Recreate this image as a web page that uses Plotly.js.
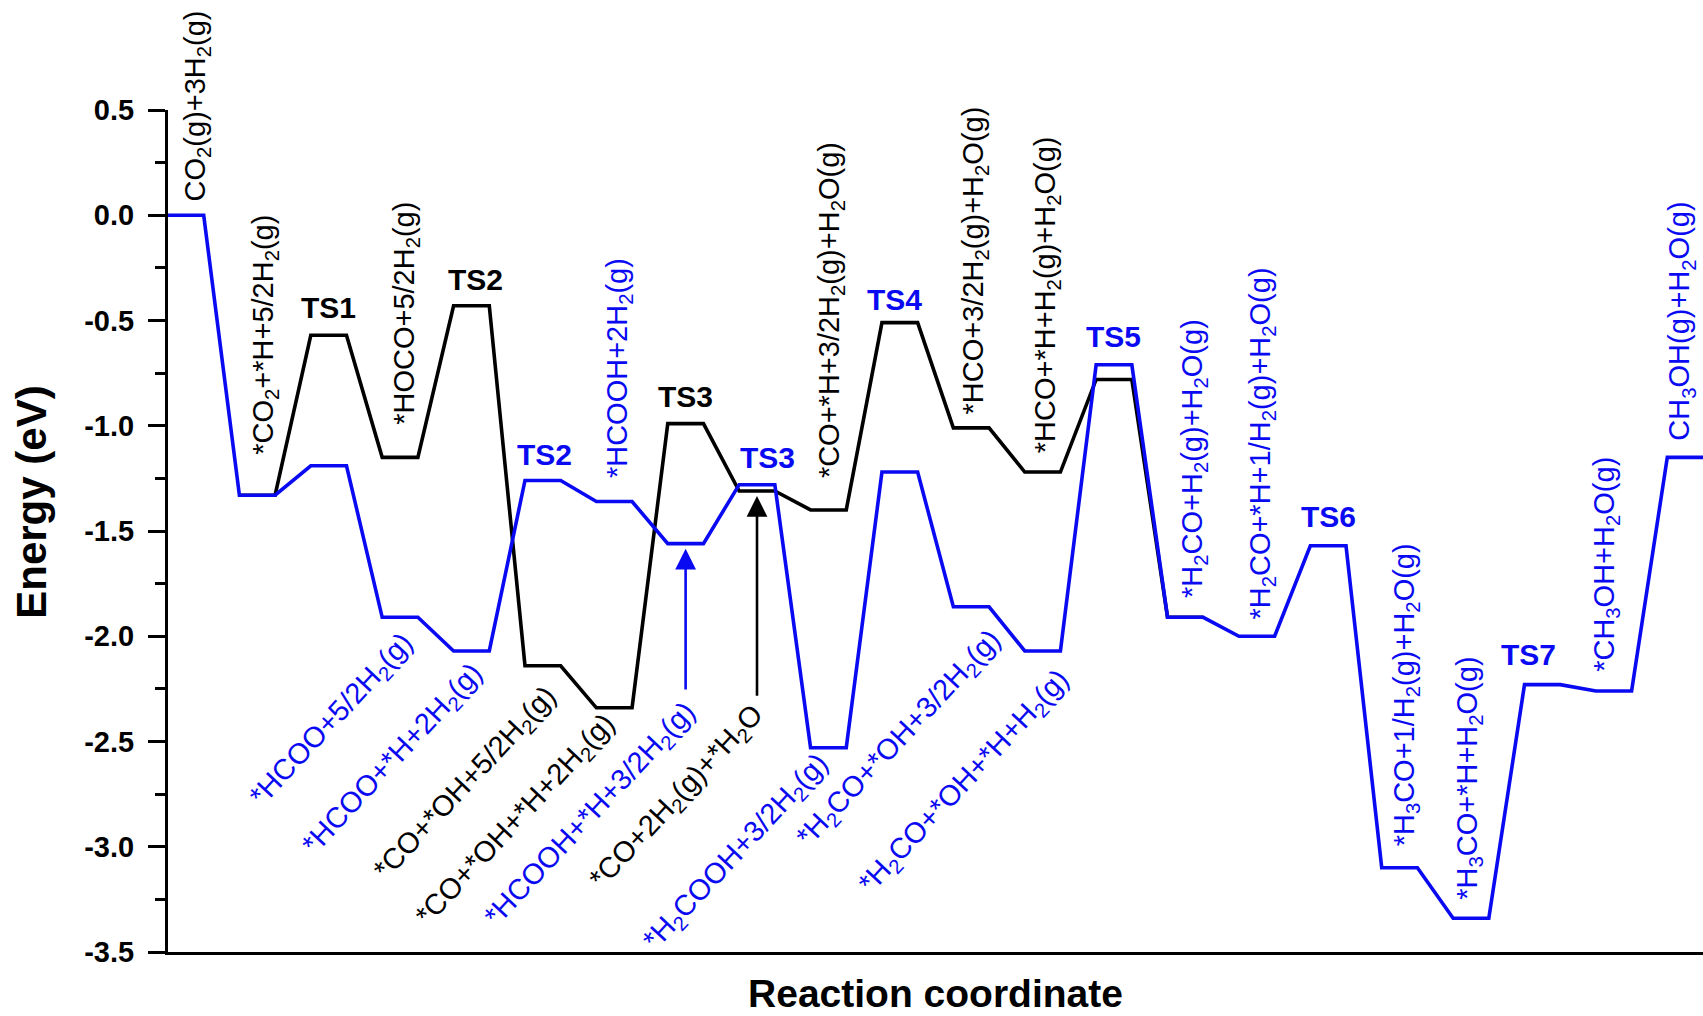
<!DOCTYPE html>
<html>
<head>
<meta charset="utf-8">
<script src="https://cdn.plot.ly/plotly-3.0.1.min.js"></script>
<style>html,body{margin:0;padding:0;background:#fff;}</style>
</head>
<body>
<div id="chart" style="width:1703px;height:1016px;"></div>
<script>
// Energy profile of CO2 hydrogenation to methanol (eV), one level per reaction step.
// Formate route (blue) starts at step 0.
const blueNames = [
  'CO<sub>2</sub>(g)+3H<sub>2</sub>(g)',
  '*CO<sub>2</sub>+*H+5/2H<sub>2</sub>(g)',
  'TS1',
  '*HCOO+5/2H<sub>2</sub>(g)',
  '*HCOO+*H+2H<sub>2</sub>(g)',
  'TS2',
  '*HCOOH+2H<sub>2</sub>(g)',
  '*HCOOH+*H+3/2H<sub>2</sub>(g)',
  'TS3',
  '*H<sub>2</sub>COOH+3/2H<sub>2</sub>(g)',
  'TS4',
  '*H<sub>2</sub>CO+*OH+3/2H<sub>2</sub>(g)',
  '*H<sub>2</sub>CO+*OH+*H+H<sub>2</sub>(g)',
  'TS5',
  '*H<sub>2</sub>CO+H<sub>2</sub>(g)+H<sub>2</sub>O(g)',
  '*H<sub>2</sub>CO+*H+1/H<sub>2</sub>(g)+H<sub>2</sub>O(g)',
  'TS6',
  '*H<sub>3</sub>CO+1/H<sub>2</sub>(g)+H<sub>2</sub>O(g)',
  '*H<sub>3</sub>CO+*H+H<sub>2</sub>O(g)',
  'TS7',
  '*CH<sub>3</sub>OH+H<sub>2</sub>O(g)',
  'CH<sub>3</sub>OH(g)+H<sub>2</sub>O(g)'
];
const blueEnergies = [0.00, -1.33, -1.19, -1.91, -2.07, -1.26, -1.36, -1.56, -1.28, -2.53, -1.22,
                      -1.86, -2.07, -0.71, -1.91, -2.00, -1.57, -3.10, -3.34, -2.23, -2.26, -1.15];

// Carboxyl / CO route (black) branches off at step 1 and rejoins at *H2CO.
const blackFirstStep = 1;
const blackNames = [
  '*CO<sub>2</sub>+*H+5/2H<sub>2</sub>(g)',
  'TS1',
  '*HOCO+5/2H<sub>2</sub>(g)',
  'TS2',
  '*CO+*OH+5/2H<sub>2</sub>(g)',
  '*CO+*OH+*H+2H<sub>2</sub>(g)',
  'TS3',
  '*CO+2H<sub>2</sub>(g)+*H<sub>2</sub>O',
  '*CO+*H+3/2H<sub>2</sub>(g)+H<sub>2</sub>O(g)',
  'TS4',
  '*HCO+3/2H<sub>2</sub>(g)+H<sub>2</sub>O(g)',
  '*HCO+*H+H<sub>2</sub>(g)+H<sub>2</sub>O(g)',
  'TS5',
  '*H<sub>2</sub>CO+H<sub>2</sub>(g)+H<sub>2</sub>O(g)'
];
const blackEnergies = [-1.33, -0.57, -1.15, -0.43, -2.14, -2.34, -0.99, -1.31, -1.40, -0.51, -1.01, -1.22, -0.78, -1.91];

const yTicks = [0.5, 0.0, -0.5, -1.0, -1.5, -2.0, -2.5, -3.0, -3.5];
const yTickText = ['0.5', '0.0', '-0.5', '-1.0', '-1.5', '-2.0', '-2.5', '-3.0', '-3.5'];

const BLUE = '#0a0af2';
const BLACK = '#000000';
const FONT = 'Liberation Sans, Arial, Helvetica, sans-serif';
const LEVEL = 0.5; // width of a level plateau, in step units

// Each state is a flat plateau [step, step+LEVEL]; consecutive plateaus are joined by straight lines.
function plateaus(energies, first) {
  const x = [], y = [];
  energies.forEach((e, k) => {
    const s = first + k;
    x.push(s, s + LEVEL);
    y.push(e, e);
  });
  return {x, y};
}

const bluePath = plateaus(blueEnergies, 0);
const blackPath = plateaus(blackEnergies, blackFirstStep);

const traces = [
  {x: blackPath.x, y: blackPath.y, type: 'scatter', mode: 'lines',
   line: {color: BLACK, width: 3.6}, hoverinfo: 'skip', showlegend: false},
  {x: bluePath.x, y: bluePath.y, type: 'scatter', mode: 'lines',
   line: {color: BLUE, width: 3.6}, hoverinfo: 'skip', showlegend: false}
];

function nameOf(series, step) {
  return series === 'blue' ? blueNames[step] : blackNames[step - blackFirstStep];
}
function energyOf(series, step) {
  return series === 'blue' ? blueEnergies[step] : blackEnergies[step - blackFirstStep];
}

// Label placement: [series, step, colour, x, y, orientation]
// 'v' = vertical text whose foot sits at (x, y); 'd' = slanted text centred on (x, y); 'ts' = bold TS tag.
const placements = [
  ['blue', 0, BLACK, 0.41, 0.055, 'v'],
  ['blue', 1, BLACK, 1.36, -1.147, 'v'],
  ['black', 3, BLACK, 3.33, -1.004, 'v'],
  ['blue', 6, BLUE, 6.32, -1.257, 'v'],
  ['black', 9, BLACK, 9.29, -1.257, 'v'],
  ['black', 11, BLACK, 11.30, -0.957, 'v'],
  ['black', 12, BLACK, 12.31, -1.138, 'v'],
  ['blue', 14, BLUE, 14.38, -1.827, 'v'],
  ['blue', 15, BLUE, 15.31, -1.93, 'v'],
  ['blue', 17, BLUE, 17.34, -3.01, 'v'],
  ['blue', 18, BLUE, 18.22, -3.26, 'v'],
  ['blue', 20, BLUE, 20.13, -2.18, 'v'],
  ['blue', 21, BLUE, 21.20, -1.08, 'v'],

  ['blue', 3, BLUE, 2.31, -2.40, 'd'],
  ['blue', 4, BLUE, 3.15, -2.586, 'd'],
  ['black', 5, BLACK, 4.17, -2.70, 'd'],
  ['black', 6, BLACK, 4.87, -2.876, 'd'],
  ['blue', 7, BLUE, 5.92, -2.848, 'd'],
  ['black', 8, BLACK, 7.14, -2.765, 'd'],
  ['blue', 9, BLUE, 7.96, -3.03, 'd'],
  ['blue', 11, BLUE, 10.25, -2.49, 'd'],
  ['blue', 12, BLUE, 11.16, -2.69, 'd'],

  ['black', 2, BLACK, 2.25, -0.44, 'ts'],
  ['black', 4, BLACK, 4.31, -0.306, 'ts'],
  ['blue', 5, BLUE, 5.28, -1.138, 'ts'],
  ['black', 7, BLACK, 7.25, -0.862, 'ts'],
  ['blue', 8, BLUE, 8.40, -1.152, 'ts'],
  ['black', 10, BLUE, 10.17, -0.401, 'ts'],
  ['blue', 13, BLUE, 13.25, -0.577, 'ts'],
  ['blue', 16, BLUE, 16.25, -1.43, 'ts'],
  ['blue', 19, BLUE, 19.06, -2.088, 'ts']
];

const annotations = placements.map(([series, step, color, x, y, kind]) => {
  const a = {
    x, y, xref: 'x', yref: 'y', text: nameOf(series, step), showarrow: false,
    font: {family: FONT, size: 29, color}
  };
  if (kind === 'v') {
    a.textangle = -90; a.xanchor = 'center'; a.yanchor = 'bottom';
  } else if (kind === 'd') {
    a.textangle = -47; a.xanchor = 'center'; a.yanchor = 'middle';
  } else {
    a.xanchor = 'center'; a.yanchor = 'middle';
    a.font = {family: FONT, size: 30, color, weight: 'bold'};
  }
  return a;
});

// Pointer arrows from the slanted labels up to their plateaus.
const pointers = [
  ['blue', 7, BLUE, -2.26],
  ['black', 8, BLACK, -2.29]
];
pointers.forEach(([series, step, color, tail]) => {
  annotations.push({
    x: step + LEVEL / 2, y: energyOf(series, step), xref: 'x', yref: 'y',
    ax: step + LEVEL / 2, ay: tail, axref: 'x', ayref: 'y',
    text: '', showarrow: true, arrowhead: 2, arrowsize: 1.6, arrowwidth: 2.6,
    arrowcolor: color, standoff: 5
  });
});

// Energy axis caption, set slightly above the middle of the frame.
annotations.push({
  text: 'Energy (eV)', xref: 'paper', yref: 'paper', x: -0.089, y: 0.534,
  xanchor: 'center', yanchor: 'middle', textangle: -90, showarrow: false,
  font: {family: FONT, size: 42, weight: 'bold', color: BLACK}
});

const layout = {
  width: 1703, height: 1016,
  margin: {l: 168, r: 0, t: 110, b: 64},
  paper_bgcolor: '#ffffff', plot_bgcolor: '#ffffff',
  font: {family: FONT, color: BLACK},
  showlegend: false,
  xaxis: {
    range: [0, 21.5], showgrid: false, zeroline: false,
    showline: true, linecolor: BLACK, linewidth: 3,
    ticks: '', showticklabels: false,
    title: {text: 'Reaction coordinate', font: {family: FONT, size: 39, weight: 'bold', color: BLACK}, standoff: 26}
  },
  yaxis: {
    range: [-3.5, 0.5], showgrid: false, zeroline: false,
    showline: true, linecolor: BLACK, linewidth: 3,
    tickmode: 'array', tickvals: yTicks, ticktext: yTickText,
    ticks: 'outside', ticklen: 17, tickwidth: 3, tickcolor: BLACK,
    ticklabelstandoff: 8,
    tickfont: {family: FONT, size: 29, weight: 'bold', color: BLACK},
    minor: {dtick: 0.25, ticks: 'outside', ticklen: 10, tickwidth: 3, tickcolor: BLACK}
  },
  annotations
};

Plotly.newPlot('chart', traces, layout, {staticPlot: true});
</script>
</body>
</html>
